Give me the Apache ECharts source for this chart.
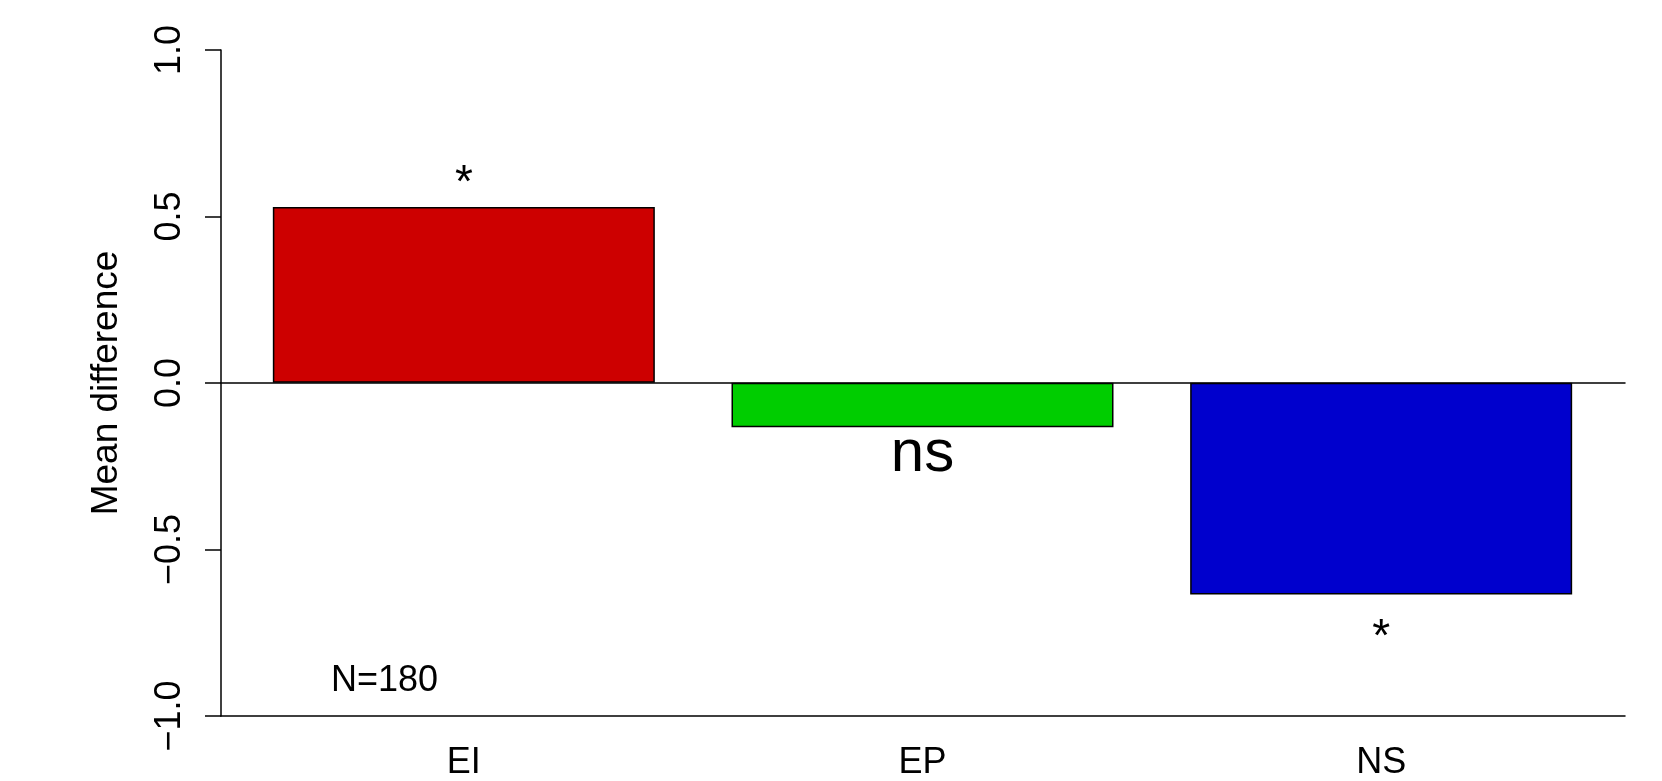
<!DOCTYPE html>
<html>
<head>
<meta charset="utf-8">
<title>Mean difference</title>
<script src="https://cdn.jsdelivr.net/npm/echarts@6/dist/echarts.min.js"></script>
<style>
html, body { margin: 0; padding: 0; background: #fff; }
#chart { width: 1662px; height: 781px; }
</style>
</head>
<body>
<div id="chart"></div>
<script>
// data
var categories = ['EI', 'EP', 'NS'];
var meanDiff = [0.528, -0.134, -0.636];
var signif = ['*', 'ns', '*'];
var barColors = ['#CD0000', '#00CD00', '#0000CD'];
var sampleNote = 'N=180';

var FONT = '"Liberation Sans", Arial, Helvetica, sans-serif';

// label look for each bar (star above positive, below negative)
function labelFor(i) {
	var txt = signif[i];
	var big = txt === 'ns';
	return {
		show: true,
		formatter: txt,
		position: meanDiff[i] >= 0 ? 'top' : 'bottom',
		distance: big ? -2.5 : (meanDiff[i] >= 0 ? 0 : 21),
		fontSize: big ? 60 : 46,
		fontFamily: FONT,
		color: '#000'
	};
}

var barData = [];
for (var i = 0; i < meanDiff.length; i++) {
	barData.push({
		value: meanDiff[i],
		itemStyle: { color: barColors[i], borderColor: '#000', borderWidth: 1.5 },
		label: labelFor(i)
	});
}

var chart = echarts.init(document.getElementById('chart'), null, { renderer: 'canvas' });
var option = {
	animation: false,
	backgroundColor: '#fff',
	textStyle: { fontFamily: FONT },
	grid: [
		// full plot region (axis lines)
		{ left: 221, right: 37, top: 50, bottom: 65 },
		// bar region
		{ left: 234.5, right: 51.5, top: 50, bottom: 65 }
	],
	xAxis: [
		{
			gridIndex: 0, type: 'value', min: 0, max: 1,
			axisLine: { show: true, onZero: false, lineStyle: { color: '#000', width: 1.5 } },
			axisTick: { show: false }, axisLabel: { show: false }, splitLine: { show: false }
		},
		{
			gridIndex: 1, type: 'category', data: categories,
			axisLine: { show: false }, axisTick: { show: false },
			axisLabel: { fontSize: 36, color: '#000', margin: 29.5, fontFamily: FONT }
		},
		{
			// zero line
			gridIndex: 0, type: 'value', min: 0, max: 1,
			axisLine: { show: true, onZero: true, lineStyle: { color: '#000', width: 1.5 } },
			axisTick: { show: false }, axisLabel: { show: false }, splitLine: { show: false }
		}
	],
	yAxis: [
		{
			gridIndex: 0, type: 'value', min: -1, max: 1, interval: 0.5,
			name: 'Mean difference', nameLocation: 'middle', nameGap: 95.5, nameRotate: 90,
			nameTextStyle: { fontSize: 37, color: '#000', fontFamily: FONT },
			axisLine: { show: true, lineStyle: { color: '#000', width: 1.5 } },
			axisTick: { show: true, length: 16, lineStyle: { color: '#000', width: 1.5 } },
			axisLabel: {
				rotate: 90, fontSize: 36, color: '#000', margin: 32.5, fontFamily: FONT,
				formatter: function (v) { return (v < 0 ? '\u2212' : '') + Math.abs(v).toFixed(1); }
			},
			splitLine: { show: false }
		},
		{
			gridIndex: 1, type: 'value', min: -1, max: 1, show: false
		}
	],
	series: [{
		type: 'bar',
		xAxisIndex: 1,
		yAxisIndex: 1,
		barWidth: 382,
		data: barData
	}],
	graphic: [{
		type: 'text',
		left: 331,
		top: 663,
		style: { text: sampleNote, fontSize: 36, fontFamily: FONT, fill: '#000' }
	}]
};
chart.setOption(option);
</script>
</body>
</html>
